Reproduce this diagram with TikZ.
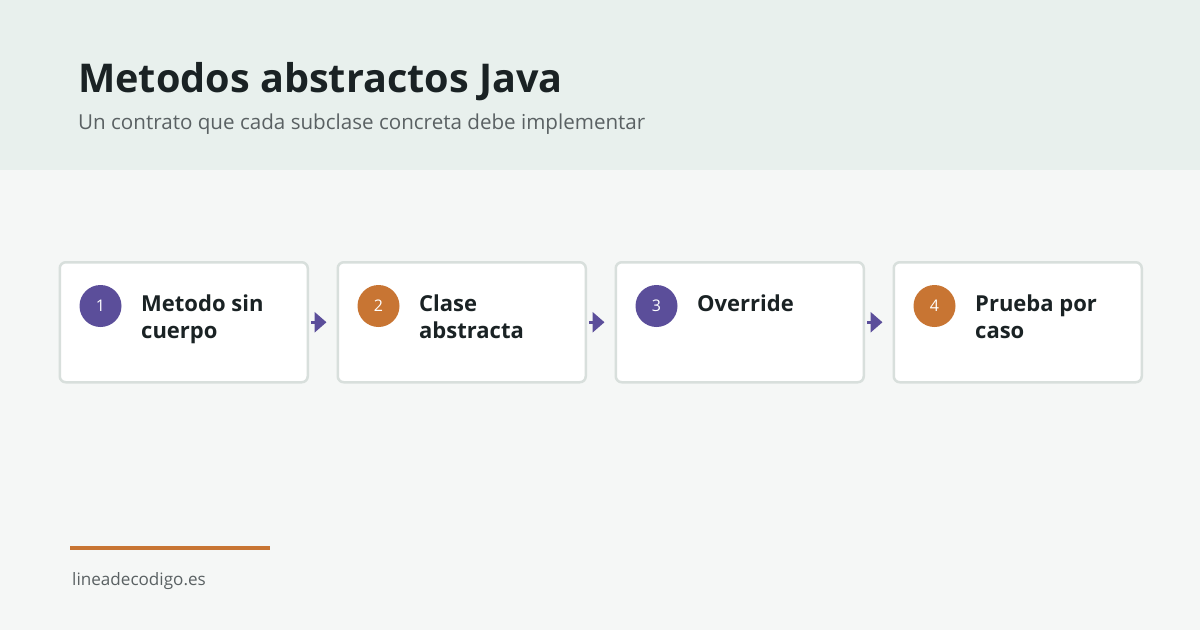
\documentclass[tikz,border=0pt]{standalone}
\usepackage{fontspec}
\setmainfont{Open Sans}
\usetikzlibrary{positioning,arrows.meta,calc}
\definecolor{bandbg}{HTML}{E8F0ED}
\definecolor{pagebg}{HTML}{F5F7F6}
\definecolor{edgegray}{HTML}{D8DFDC}
\definecolor{ink}{HTML}{1A2224}
\definecolor{subgray}{HTML}{5A6163}
\definecolor{violet}{HTML}{5B4E9A}
\definecolor{amber}{HTML}{C87533}
\tikzstyle{card} = [draw=edgegray,line width=2.5pt,fill=white,rounded corners=6pt,
                    minimum width=248pt,minimum height=120pt,inner sep=0pt]
\tikzstyle{num}  = [circle,minimum size=42pt,inner sep=0pt,text=white,
                    font=\fontsize{16}{16}\selectfont]
\tikzstyle{lbl}  = [anchor=base west,inner sep=0pt,text=ink,
                    font=\fontsize{22}{28}\selectfont\bfseries]
\tikzstyle{flow} = [violet,line width=3pt,shorten <=2pt,shorten >=10pt,
                    -{Triangle[length=12pt,width=20pt]}]
\newcommand{\twolines}[2]{\begin{tabular}[t]{@{}l@{}}#1\\[-1pt]#2\end{tabular}}

\begin{document}
\begin{tikzpicture}[x=1pt,y=1pt,node distance=27.5pt]

   \fill[pagebg] (0,0) rectangle (1200,-630);
   \fill[bandbg] (0,0) rectangle (1200,-170);
   \useasboundingbox (0,0) rectangle (1200,-630);

   \node[anchor=base west,inner sep=0pt,text=ink,
         font=\fontsize{39.6}{40}\selectfont\bfseries] (title) at (78,-92)
        {Metodos abstractos Java};
   \node[anchor=base west,inner sep=0pt,text=subgray,
         font=\fontsize{20.6}{21}\selectfont] (sub) at (78,-129)
        {Un contrato que cada subclase concreta debe implementar};

   % step cards
   \node[card,anchor=north west] (c1) at (58.5,-261) {};
   \node[card,right=of c1]  (c2) {};
   \node[card,right=of c2]  (c3) {};
   \node[card,right=of c3]  (c4) {};

   \node[num,fill=violet] (n1) at ([shift={(42,-45)}]c1.north west) {1};
   \node[num,fill=amber]  (n2) at ([shift={(42,-45)}]c2.north west) {2};
   \node[num,fill=violet] (n3) at ([shift={(42,-45)}]c3.north west) {3};
   \node[num,fill=amber]  (n4) at ([shift={(42,-45)}]c4.north west) {4};

   \node[lbl] (t1) at ([shift={(82.5,-50)}]c1.north west) {\twolines{Metodo sin}{cuerpo}};
   \node[lbl] (t2) at ([shift={(82.5,-50)}]c2.north west) {\twolines{Clase}{abstracta}};
   \node[lbl] (t3) at ([shift={(82.5,-50)}]c3.north west) {Override};
   \node[lbl] (t4) at ([shift={(82.5,-50)}]c4.north west) {\twolines{Prueba por}{caso}};

   \draw[flow] (c1) -- (c2);
   \draw[flow] (c2) -- (c3);
   \draw[flow] (c3) -- (c4);

   % footer
   \coordinate (rule a) at (70,-548);
   \coordinate (rule b) at (270,-548);
   \draw[amber,line width=4pt] (rule a) -- (rule b);
   \node[anchor=base west,inner sep=0pt,text=subgray,
         font=\fontsize{17.1}{17}\selectfont] (site) at (72,-585) {lineadecodigo.es};

\end{tikzpicture}
\end{document}
